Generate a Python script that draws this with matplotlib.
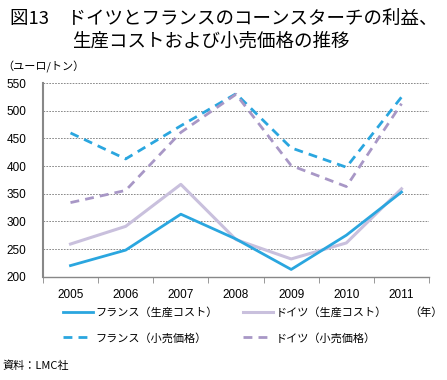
import matplotlib
matplotlib.use("Agg")
import matplotlib.pyplot as plt
from matplotlib.lines import Line2D

plt.rcParams['font.family'] = ['Noto Sans CJK JP', 'DejaVu Sans']

years = ['2005', '2006', '2007', '2008', '2009', '2010', '2011']
france_cost = [220, 248, 313, 268, 213, 275, 353]
germany_cost = [259, 291, 367, 267, 232, 261, 359]
france_retail = [460, 413, 473, 531, 433, 398, 525]
germany_retail = [334, 356, 461, 530, 401, 363, 513]
series_labels = ['フランス（生産コスト）', 'ドイツ（生産コスト）', 'フランス（小売価格）', 'ドイツ（小売価格）']

c_blue = '#2AA6DF'
c_lpurple = '#C9C0DD'
c_purple = '#A897C6'
dash = (0, (3.2, 2.2))

fig = plt.figure(figsize=(4.47, 3.80), dpi=100)
ax = fig.add_axes([0.096, 0.272, 0.864, 0.509])

x = list(range(len(years)))
ax.plot(x, france_retail, color=c_blue, lw=2.0, ls=dash)
ax.plot(x, germany_retail, color=c_purple, lw=2.0, ls=dash)
ax.plot(x, germany_cost, color=c_lpurple, lw=2.2)
ax.plot(x, france_cost, color=c_blue, lw=2.0)

ax.set_xlim(-0.5, 6.5)
ax.set_ylim(200, 550)
ax.set_yticks(range(200, 551, 50))
ax.set_xticks(x)
ax.set_xticklabels(years, fontsize=8.5, fontfamily=['Liberation Sans', 'DejaVu Sans'])
ax.set_xticks([i + 0.5 for i in range(-1, 7)], minor=True)
ax.tick_params(axis='x', which='major', length=0, pad=9)
ax.tick_params(axis='x', which='minor', length=4, color='#888888', direction='out')
ax.tick_params(axis='y', length=0, labelsize=8.5, pad=12)
for lab in ax.get_yticklabels():
    lab.set_fontfamily(['Liberation Sans', 'DejaVu Sans'])
ax.grid(axis='y', color='#777777', ls=(0, (2, 1.5)), lw=0.6)
ax.set_axisbelow(True)
for s in ['top', 'right']:
    ax.spines[s].set_visible(False)
ax.spines['left'].set_color('#888888')
ax.spines['left'].set_linewidth(1.5)
ax.spines['bottom'].set_color('#888888')
ax.spines['bottom'].set_linewidth(1.0)

fig.text(0.022, 0.975, '図13　ドイツとフランスのコーンスターチの利益、', fontsize=13.3, va='top', ha='left')
fig.text(0.161, 0.915, '生産コストおよび小売価格の推移', fontsize=13.3, va='top', ha='left')
fig.text(0.005, 0.825, '（ユーロ/トン）', fontsize=8, va='center', ha='left')
fig.text(0.915, 0.178, '（年）', fontsize=8, va='center', ha='left')
fig.text(0.005, 0.037, '資料：LMC社', fontsize=8, va='center', ha='left')

h_fc = Line2D([], [], color=c_blue, lw=2.0)
h_gc = Line2D([], [], color=c_lpurple, lw=2.2)
h_fr = Line2D([], [], color=c_blue, lw=2.0, ls=dash)
h_gr = Line2D([], [], color=c_purple, lw=2.0, ls=dash)
# column-major fill -> reorder so rows read: cost, cost / retail, retail
handles = [h_fc, h_fr, h_gc, h_gr]
labels = [series_labels[0], series_labels[2], series_labels[1], series_labels[3]]
fig.legend(handles, labels, ncol=2, loc='upper left', bbox_to_anchor=(0.141, 0.191),
           frameon=False, fontsize=8, handlelength=2.7, handletextpad=0.2,
           columnspacing=2.3, labelspacing=1.3, borderaxespad=0, borderpad=0)

fig.savefig('out.png', dpi=100)
